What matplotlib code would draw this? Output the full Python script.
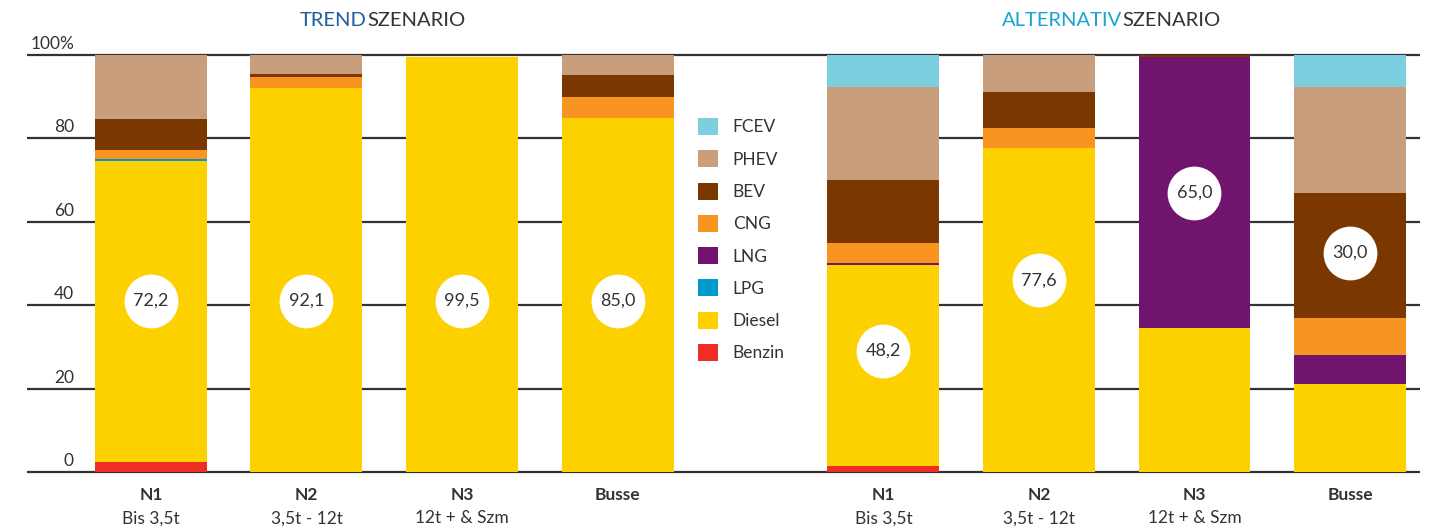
import numpy as np
import matplotlib.pyplot as plt
from matplotlib.patches import Patch

plt.rcParams['font.family'] = ['Lato', 'DejaVu Sans']

# vehicle classes, two scenarios
classes = ['N1', 'N2', 'N3', 'Busse']
subtitles = ['Bis 3,5t', '3,5t - 12t', '12t + & Szm', '']

fuels = ['Benzin', 'Diesel', 'LPG', 'LNG', 'CNG', 'BEV', 'PHEV', 'FCEV']
colors = ['#ee2e24', '#fdd000', '#0099cc', '#70146e', '#f79520', '#7a3800',
          '#c89e7c', '#7ccfdf']

# shares in % per class (order: N1, N2, N3, Busse)
trend_benzin = [2.4, 0.0, 0.0, 0.0]
trend_diesel = [72.2, 92.1, 99.5, 85.0]
trend_lpg = [0.4, 0.0, 0.0, 0.0]
trend_lng = [0.0, 0.0, 0.0, 0.0]
trend_cng = [2.3, 2.6, 0.0, 4.9]
trend_bev = [7.4, 0.7, 0.0, 5.2]
trend_phev = [15.3, 4.6, 0.0, 4.9]
trend_fcev = [0.0, 0.0, 0.0, 0.0]

alt_benzin = [1.4, 0.0, 0.0, 0.0]
alt_diesel = [48.2, 77.6, 34.5, 21.1]
alt_lpg = [0.0, 0.0, 0.0, 0.0]
alt_lng = [0.5, 0.0, 65.0, 7.0]
alt_cng = [4.8, 4.9, 0.0, 8.9]
alt_bev = [15.1, 8.6, 0.5, 30.0]
alt_phev = [22.3, 8.9, 0.0, 25.3]
alt_fcev = [7.7, 0.0, 0.0, 7.7]

# highlighted value in each bar: (fuel, value)
trend_marks = [('Diesel', 72.2), ('Diesel', 92.1), ('Diesel', 99.5), ('Diesel', 85.0)]
alt_marks = [('Diesel', 48.2), ('Diesel', 77.6), ('LNG', 65.0), ('BEV', 30.0)]
# vertical position of the value bubbles
trend_mark_y = [41, 41, 41, 41]
alt_mark_y = [29, 46, 67, 52.5]

trend = np.array([trend_benzin, trend_diesel, trend_lpg, trend_lng,
                  trend_cng, trend_bev, trend_phev, trend_fcev])
alt = np.array([alt_benzin, alt_diesel, alt_lpg, alt_lng,
                alt_cng, alt_bev, alt_phev, alt_fcev])

W, H = 1436, 528
fig = plt.figure(figsize=(W / 100, H / 100), dpi=100)
ax = fig.add_axes([27 / W, 1 - 472 / H, (1420 - 27) / W, (472 - 55) / H])
xmin, xmax = -0.797, 8.16
ax.set_xlim(xmin, xmax)
ax.set_ylim(0, 100)
ax.axis('off')

x_trend = np.arange(4)
x_alt = np.arange(4) + 4.71
width = 0.72

txt = '#333333'
for g in [0, 20, 40, 60, 80, 100]:
    if g in (0, 100):
        ax.hlines(g, xmin, xmax, color=txt, lw=1.6, zorder=1, clip_on=False)
    else:
        # inner lines stop at the legend gap
        ax.hlines(g, xmin, x_trend[-1] + width / 2, color=txt, lw=1.6, zorder=1)
        ax.hlines(g, x_alt[0] - width / 2, xmax, color=txt, lw=1.6, zorder=1)
    lab = '100%' if g == 100 else str(g)
    ax.text((74 - 27) / (1420 - 27), g + 0.7, lab,
            transform=ax.get_yaxis_transform(), ha='right', va='bottom',
            fontsize=12.5, color=txt)

for xs, data, marks, mark_y in [(x_trend, trend, trend_marks, trend_mark_y),
                                (x_alt, alt, alt_marks, alt_mark_y)]:
    bottom = np.zeros(4)
    for fuel, col, vals in zip(fuels, colors, data):
        ax.bar(xs, vals, width, bottom=bottom, color=col, zorder=2, lw=0)
        bottom = bottom + vals
    for x, (fuel, v), my in zip(xs, marks, mark_y):
        ax.scatter([x], [my], s=1500, color='white', zorder=3, lw=0)
        ax.text(x, my, f'{v:.1f}'.replace('.', ','), ha='center', va='center',
                fontsize=13, color=txt, zorder=4)
    for x, c, s in zip(xs, classes, subtitles):
        ax.text(x, -3.6, c, ha='center', va='top', fontsize=12.5,
                fontweight='bold', color=txt, clip_on=False)
        if s:
            ax.text(x, -9.2, s, ha='center', va='top', fontsize=12.5,
                    color=txt, clip_on=False)

# scenario headings, coloured first word
fig.text(367 / W, 1 - 20 / H, 'TREND', ha='right', va='center',
         fontsize=14.5, color='#1f5f9a')
fig.text(367 / W, 1 - 20 / H, 'SZENARIO', ha='left', va='center',
         fontsize=14.5, color=txt)
fig.text(1122 / W, 1 - 20 / H, 'ALTERNATIV', ha='right', va='center',
         fontsize=14.5, color='#1aa3d4')
fig.text(1122 / W, 1 - 20 / H, 'SZENARIO', ha='left', va='center',
         fontsize=14.5, color=txt)

handles = [Patch(facecolor=c, edgecolor='none', label=f)
           for f, c in zip(fuels, colors)][::-1]
fig.legend(handles=handles, loc='upper left',
           bbox_to_anchor=(698 / W, 1 - 118 / H), frameon=False,
           fontsize=12.5, handlelength=1.15, handleheight=1.15,
           handletextpad=0.85, labelspacing=0.85, borderpad=0,
           borderaxespad=0, labelcolor=txt)

fig.savefig('out.png', dpi=100)
